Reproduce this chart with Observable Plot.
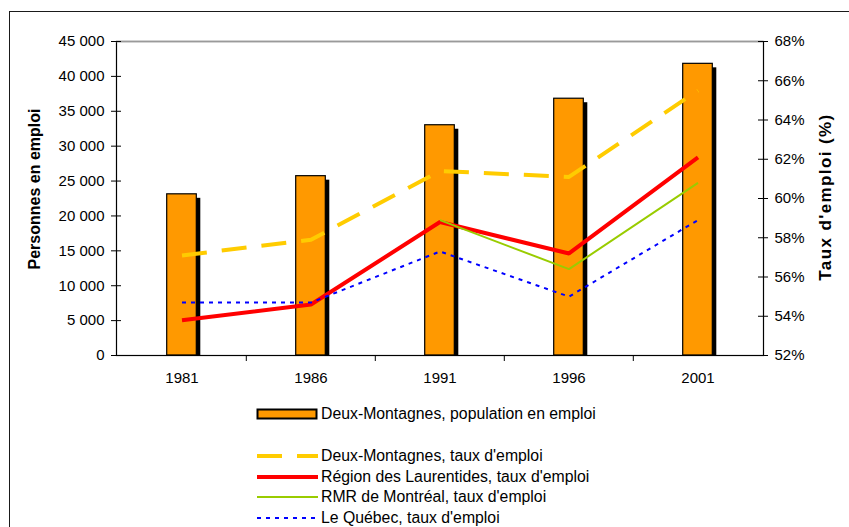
<!DOCTYPE html>
<html>
<head>
<meta charset="utf-8">
<script src="https://cdn.jsdelivr.net/npm/d3@7"></script>
<script src="https://cdn.jsdelivr.net/npm/@observablehq/plot@0.6"></script>
<style>
  html, body { margin: 0; padding: 0; background: #fff; }
  body { font-family: "Liberation Sans", Arial, sans-serif; color: #000; }
  #wrap { position: relative; width: 849px; height: 527px; overflow: hidden; background: #fff; }
  #frame { position: absolute; left: 9px; top: 11px; width: 900px; height: 700px; border: 1.6px solid #1a1a1a; box-sizing: border-box; }
  #chart { position: absolute; left: 0; top: 0; }
  .ytitle { position: absolute; font-weight: bold; font-size: 16px; white-space: nowrap; transform-origin: center center; }
  .leg { position: absolute; display: flex; align-items: center; font-size: 15.8px; white-space: nowrap; height: 20px; }
  .leg svg { display: block; margin-right: 2px; }
</style>
</head>
<body>
<div id="wrap">
  <div id="frame"></div>
  <div id="chart"></div>
</div>
<script>
// ---- data ----
const years = ["1981", "1986", "1991", "1996", "2001"];
const emploiDeuxMontagnes = [23100, 25700, 33000, 36800, 41800];
const tauxDeuxMontagnes = [57.1, 57.9, 61.4, 61.1, 65.5];
const tauxLaurentides = [53.8, 54.6, 58.8, 57.2, 62.1];
const tauxRMR = [null, null, 58.9, 56.4, 60.8];
const tauxQuebec = [54.7, 54.7, 57.3, 55.0, 58.9];
const leftTicks = [0, 5000, 10000, 15000, 20000, 25000, 30000, 35000, 40000, 45000];
const rightTicks = [52, 54, 56, 58, 60, 62, 64, 66, 68];
const barLabel = "Deux-Montagnes, population en emploi";
const lineLabels = ["Deux-Montagnes, taux d'emploi", "Région des Laurentides, taux d'emploi", "RMR de Montréal, taux d'emploi", "Le Québec, taux d'emploi"];
const leftTitle = "Personnes en emploi";
const rightTitle = "Taux d'emploi (%)";

// ---- styles ----
const lineStyles = [
  {stroke: "#ffcc00", strokeWidth: 4, dash: "25,15"},
  {stroke: "#ff0000", strokeWidth: 4, dash: null},
  {stroke: "#99cc00", strokeWidth: 2, dash: null},
  {stroke: "#0000ff", strokeWidth: 2, dash: "4,5"}
];
const lineValues = [tauxDeuxMontagnes, tauxLaurentides, tauxRMR, tauxQuebec];

const W = 849, H = 400, mL = 116, mR = 86, mT = 41, mB = 45;
const plotW = W - mL - mR, plotH = H - mT - mB;
const bw = plotW / years.length;
const barW = 30;
const inset = (bw - barW) / 2;
const yMax = 45000, pMin = 52, pMax = 68;
const toY = p => (p - pMin) / (pMax - pMin) * yMax;
const shadowUnits = 4 * yMax / plotH;

const bars = years.map((y, i) => ({year: y, v: emploiDeuxMontagnes[i]}));
const lineMarks = lineValues.map((vals, k) => {
  const data = years.map((y, i) => ({year: y, p: vals[i]})).filter(d => d.p != null);
  const s = lineStyles[k];
  return Plot.line(data, {x: "year", y: d => toY(d.p), stroke: s.stroke, strokeWidth: s.strokeWidth,
    strokeDasharray: s.dash, strokeLinejoin: "miter", strokeLinecap: "butt"});
});

const chart = Plot.plot({
  width: W, height: H,
  marginLeft: mL, marginRight: mR, marginTop: mT, marginBottom: mB,
  style: {fontFamily: "'Liberation Sans', Arial, sans-serif", fontSize: "15px", color: "#000", background: "transparent", overflow: "visible"},
  x: {type: "band", domain: years, padding: 0, axis: null},
  y: {domain: [0, yMax], axis: null},
  marks: [
    Plot.barY(bars, {x: "year", y1: 0, y2: d => d.v - shadowUnits, dx: 4, fill: "#000", insetLeft: inset, insetRight: inset}),
    Plot.barY(bars, {x: "year", y: "v", fill: "#ff9900", stroke: "#000", strokeWidth: 1.2, insetLeft: inset, insetRight: inset}),
    ...lineMarks,
    Plot.frame({stroke: "#000", strokeWidth: 1.2}),
    Plot.ruleY([yMax], {stroke: "#9a9a9a", strokeWidth: 1.5}),
    // left ticks crossing the axis
    Plot.tickY(leftTicks, {y: d => d, stroke: "#000", insetLeft: -5, insetRight: plotW - 5}),
    // right ticks crossing the axis
    Plot.tickY(rightTicks.map(toY), {y: d => d, stroke: "#000", insetLeft: plotW - 5, insetRight: -5}),
    // x boundary ticks below the axis
    Plot.tickX(years.slice(1), {x: d => d, dx: -bw / 2, stroke: "#000", insetTop: plotH, insetBottom: -6}),
    Plot.axisY({anchor: "left", ticks: leftTicks, tickSize: 0, tickPadding: 12, label: null,
      tickFormat: d => d3.format(",")(d).replace(/,/g, " ")}),
    Plot.axisY({anchor: "right", ticks: rightTicks.map(toY), tickSize: 0, tickPadding: 11, label: null,
      tickFormat: d => Math.round(pMin + d / yMax * (pMax - pMin)) + "%"}),
    Plot.axisX({ticks: years, tickSize: 0, tickPadding: 17, label: null})
  ]
});
document.getElementById("chart").appendChild(chart);

const wrap = document.getElementById("wrap");
// axis titles
function addTitle(text, cx, cy, rot, extra) {
  const d = document.createElement("div");
  d.className = "ytitle";
  d.textContent = text;
  Object.assign(d.style, extra || {});
  wrap.appendChild(d);
  const w = d.offsetWidth, h = d.offsetHeight;
  d.style.left = (cx - w / 2) + "px";
  d.style.top = (cy - h / 2) + "px";
  d.style.transform = `rotate(${rot}deg)`;
}
addTitle(leftTitle, 35, 189, -90);
addTitle(rightTitle, 825, 197, -90, {fontSize: "17px", letterSpacing: "1.4px"});

// legend
function addLegend(label, top, drawSwatch) {
  const row = document.createElement("div");
  row.className = "leg";
  row.style.left = "256px";
  row.style.top = (top - 10) + "px";
  const svg = d3.create("svg").attr("width", 63).attr("height", 14);
  drawSwatch(svg);
  row.appendChild(svg.node());
  const span = document.createElement("span");
  span.textContent = label;
  row.appendChild(span);
  wrap.appendChild(row);
}
addLegend(barLabel, 414, svg => svg.append("rect").attr("x", 1.5).attr("y", 2.5).attr("width", 59).attr("height", 9)
  .attr("fill", "#ff9900").attr("stroke", "#000").attr("stroke-width", 2));
lineLabels.forEach((lab, k) => {
  const s = lineStyles[k];
  addLegend(lab, 456 + k * 20.7, svg => svg.append("line").attr("x1", 1).attr("x2", 62).attr("y1", 7).attr("y2", 7)
    .attr("stroke", s.stroke).attr("stroke-width", s.strokeWidth).attr("stroke-dasharray", s.dash));
});
</script>
</body>
</html>
